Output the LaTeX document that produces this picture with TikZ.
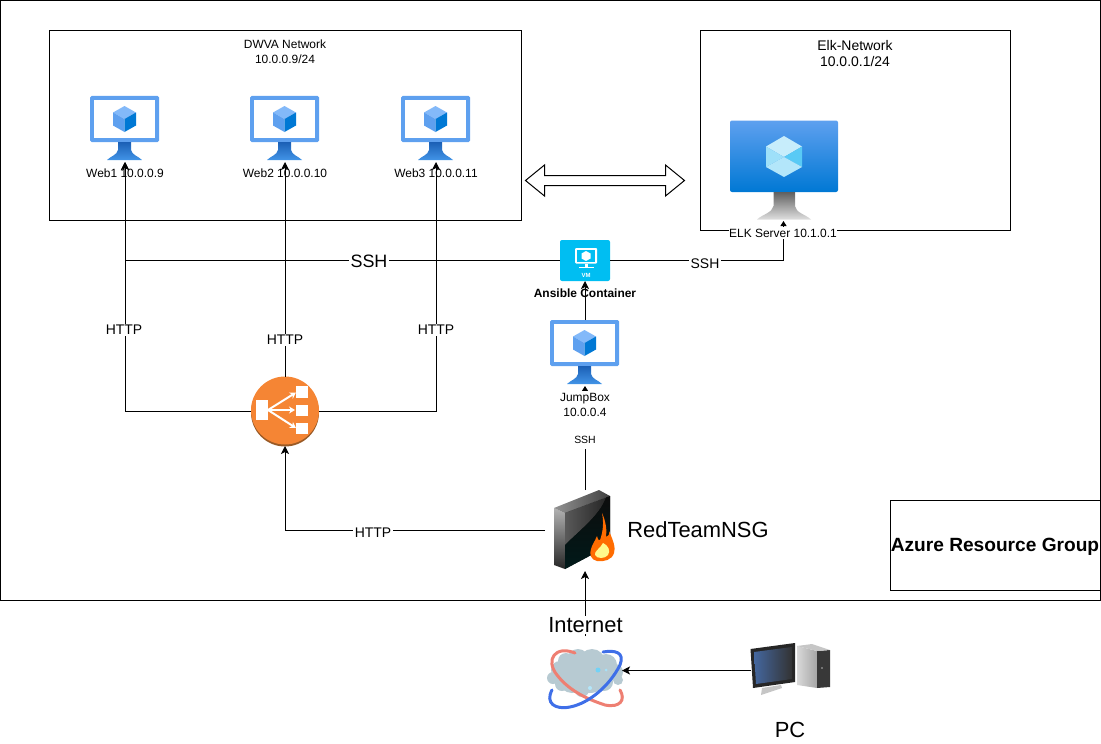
\documentclass[tikz,border=0pt]{standalone}
\usepackage{fontspec}
\setmainfont{Liberation Sans}
\usetikzlibrary{arrows.meta,positioning}
\definecolor{azA}{HTML}{5EA0EF}
\definecolor{azB}{HTML}{0078D4}
\definecolor{azC}{HTML}{83B9F9}
\definecolor{azD}{HTML}{1B5FB5}
\definecolor{lbO}{HTML}{F58534}
\definecolor{lbD}{HTML}{995A26}
\definecolor{ansC}{HTML}{00BEF2}
\definecolor{ringR}{HTML}{EE7F72}
\definecolor{ringB}{HTML}{3F6FE8}
\definecolor{cloudC}{HTML}{B7CAD2}
\definecolor{screenC}{HTML}{44679F}
\newcommand{\fsz}[1]{\fontsize{#1}{#1}\selectfont}
\tikzset{
  x=1bp,y=-1bp,
  iconbox/.style={inner sep=0pt,outer sep=0pt,minimum width=#1},
  boxline/.style={draw=black,line width=1bp},
  wire/.style={draw=black,line width=1bp},
  tipped/.style={wire,-{Stealth[length=8bp,width=8bp,inset=2bp]}},
  tiny tipped/.style={wire,-{Stealth[length=5bp,width=6bp,inset=0bp]}},
  lab/.style={inner sep=0pt,outer sep=0pt,align=center,text=black,font=\fsz{#1}},
  wlab/.style={lab=#1,fill=white,inner sep=1.5bp},
  vmicon/.pic={
    \fill[azA,rounded corners=1.5bp] (0,0) rectangle (69,46);
    \fill[white] (4,4) rectangle (65,42);
    \shade[top color=azD,bottom color=azA!70!azB,draw=none] (28,46) -- (41,46) -- (41,54) .. controls (42,59) and (48,60) .. (52,64) -- (17,64) .. controls (21,60) and (27,59) .. (28,54) -- cycle;
    \fill[azC] (34.5,10) -- (46,16.5) -- (34.5,23) -- (23,16.5) -- cycle;
    \fill[azA] (23,16.5) -- (34.5,23) -- (34.5,36) -- (23,29.5) -- cycle;
    \fill[azB] (46,16.5) -- (34.5,23) -- (34.5,36) -- (46,29.5) -- cycle;
  }
}
\begin{document}
\begin{tikzpicture}
\useasboundingbox (0,0) rectangle (1101,744);
% containers
\path[boxline] (0.5,0.5) rectangle (1100.5,600.5);
\path[boxline] (49.5,30.5) rectangle (521,220.5);
\path[boxline] (700.5,30.5) rectangle (1010.5,230.5);
\path[boxline] (890.5,500.5) rectangle (1100.5,590.5);
\node[inner sep=0pt,font=\fsz{19.2}\bfseries] (azure) at (995,547) {Azure Resource Group};
\node[lab=12] (dvwat) at (285,51.5) {DWVA Network\\[3bp]10.0.0.9/24};
\node[lab=14] (elkt) at (855,53.5) {Elk-Network\\[3bp]10.0.0.1/24};

% icon holders
\node[iconbox=70bp,minimum height=66bp] (web1) at (125,129) {};
\node[iconbox=70bp,minimum height=66bp] (web2) at (285,129) {};
\node[iconbox=70bp,minimum height=66bp] (web3) at (436,129) {};
\node[iconbox=109bp,minimum height=101bp] (elk) at (783.5,170.5) {};
\node[iconbox=50bp,minimum height=41bp] (ans) at (585,260.5) {};
\node[iconbox=70bp,minimum height=66bp] (jump) at (585,353) {};
\node[iconbox=68bp,minimum height=69bp] (lb) at (285,411.5) {};
\node[iconbox=80bp,minimum height=81bp] (nsg) at (585,530.5) {};
\node[iconbox=74bp,minimum height=69bp] (cloud) at (585,670.5) {};
\node[iconbox=80bp,minimum height=49bp] (pc) at (790.5,670.5) {};

% VMs
\pic at (90,96) {vmicon};
\pic at (250,96) {vmicon};
\pic at (401,96) {vmicon};
\pic at (550,320) {vmicon};

% Elk server
\shade[top color=azA,bottom color=azB,rounded corners=2bp] (730,120.5) rectangle (838,192);
\shade[top color=gray!75!black,bottom color=gray!25] (773.5,192) -- (795,192) -- (795,206) .. controls (796,213) and (805,214) .. (811,219.5) -- (757,219.5) .. controls (763,214) and (772,213) .. (773.5,206) -- cycle;
\fill[cyan!22!white] (784,136) -- (802,146.5) -- (784,157) -- (766,146.5) -- cycle;
\fill[cyan!38!white] (766,146.5) -- (784,157) -- (766,167) -- cycle;
\fill[cyan!65!white] (802,146.5) -- (784,157) -- (802,167) -- cycle;
\fill[cyan!30!white] (766,167) -- (784,157) -- (802,167) -- (784,177) -- cycle;

% Ansible
\fill[ansC,rounded corners=2bp] (ans.north west) rectangle (ans.south east);
\fill[white,rounded corners=1bp] (575,248) rectangle (597,263.5);
\fill[ansC] (577,250) rectangle (595,261.5);
\fill[white] (586,251) -- (590.5,253.5) -- (590.5,258.5) -- (586,261) -- (581.5,258.5) -- (581.5,253.5) -- cycle;
\fill[white] (584.5,263.5) rectangle (587.5,266.5);
\fill[white] (578.5,266.5) rectangle (593.5,268);
\node[lab=6,text=white,font=\fsz{6}\bfseries] (vmt) at (586,275.5) {VM};

% load balancer
\fill[lbD] (285,412.5) circle (34);
\fill[lbO] (285,410.5) circle (34);
\fill[white] (256,400) rectangle (268,420);
\fill[white] (296,386) rectangle (307.5,398);
\fill[white] (296,405) rectangle (307.5,415.5);
\fill[white] (296,423) rectangle (307.5,433.5);
\draw[white,line width=2bp,-{Stealth[length=6bp,width=7bp]}] (268,410) -- (296,392.5);
\draw[white,line width=2bp,-{Stealth[length=6bp,width=7bp]}] (268,410) -- (295,410);
\draw[white,line width=2bp,-{Stealth[length=6bp,width=7bp]}] (268,410) -- (296,428);

% firewall
\shade[top color=gray!60,bottom color=black!85] (554,508) -- (565,513) -- (565,569) -- (554,565) -- cycle;
\shade[left color=gray!85,right color=black!75] (554,508) -- (599,490) -- (610,496) -- (565,513) -- cycle;
\fill[black!92] (565,513) -- (610,496) -- (610,545) -- (565,569) -- cycle;
\shade[left color=gray!70!black,right color=black!85] (565,513) -- (606,497.5) .. controls (600,515) and (580,530) .. (565,545) -- cycle;
\shade[top color=black!95,bottom color=black!90!cyan] (565,545) .. controls (580,530) and (600,515) .. (606,497.5) -- (610,496) -- (610,545) -- (565,569) -- cycle;
\fill[orange!85!red] (602,513) .. controls (606,522) and (607,530) .. (606,537) .. controls (608,537) and (610,534) .. (609,531) .. controls (613,540) and (616,548) .. (614,553) .. controls (612,560) and (604,562) .. (597,561) .. controls (591,560) and (589,554) .. (591,549) .. controls (592,545) and (595,541) .. (597,536) .. controls (598,540) and (599,541) .. (600,540) .. controls (603,532) and (604,522) .. (602,513) -- cycle;
\fill[yellow!45!white] (603,543) .. controls (608,545) and (611,551) .. (608,555) .. controls (605,559) and (597,559) .. (595,555) .. controls (594,551) and (600,549) .. (603,543) -- cycle;

% internet
\foreach \cx/\cy/\cr in {553/678/6,560/670/9,566/661/8,578/660/11,592/662/13,606/665/11,615/672/8,618/680/5,590/676/17,572/680/13,604/682/9,562/684/7,582/690/7}
  \fill[cloudC] (\cx,\cy) circle (\cr);
\fill[cyan!55!white] (598,670) circle (2.5);
\fill[cyan!35!white] (606,670) circle (1.5);
\fill[white!70!cyan] (590,688) circle (2);
\draw[ringR,line width=3bp,line cap=round] (575,653) .. controls (555,645) and (545,660) .. (557,675) .. controls (570,692) and (590,700) .. (605,705) .. controls (620,708) and (626,700) .. (620,690);
\draw[ringB,line width=3bp,line cap=round] (552,690) .. controls (545,703) and (555,710) .. (570,707) .. controls (590,703) and (610,685) .. (620,665) .. controls (625,652) and (615,650) .. (603,652);

% pc
\fill[black!85] (750.5,649) -- (795,643) -- (795,682) -- (753,688) -- cycle;
\shade[left color=screenC,right color=black!80] (754,652) -- (792,647) -- (792,679) -- (756,684) -- cycle;
\fill[gray!45] (762,688) -- (781,685) -- (782,688) -- (761,695) -- cycle;
\shade[left color=gray!30,right color=gray!70] (797,646) -- (817,651) -- (817,688) -- (797,685) -- cycle;
\fill[black!78] (817,651) -- (830,650) -- (830,687) -- (817,688) -- cycle;
\fill[gray!45] (797,646) -- (812,644) -- (830,650) -- (817,651) -- cycle;
\fill[gray!60] (822,668) circle (0.8);

% labels that wires cross
\node[lab=12] (web1t) at (125,173) {Web1 10.0.0.9};
\node[lab=12] (web2t) at (285,173) {Web2 10.0.0.10};
\node[lab=12] (web3t) at (436,173) {Web3 10.0.0.11};
\node[lab=12,font=\fsz{12}\bfseries] (anst) at (585,293.5) {Ansible Container};

% block arrow
\path[boxline,fill=white,miter limit=10] (525.5,180.5) -- (544.5,165) -- (544.5,175.5) -- (665.5,175.5) -- (665.5,165) -- (684.5,180.5) -- (665.5,196) -- (665.5,185.5) -- (544.5,185.5) -- (544.5,196) -- cycle;

% connectors
\draw[tipped] (lb.north) -- (web2.south);
\draw[tipped] (lb.west) -| (web1.south);
\draw[tipped] (lb.east) -| (web3.south);
\draw[tipped] (ans.west) -| (web1.south);
\draw[tiny tipped] (ans.east) -| (elk.south);
\draw[tipped] (jump.north) -- (ans.south);
\draw[tiny tipped] (nsg.north) -- (jump.south);
\draw[tipped] (nsg.west) -| (lb.south);
\draw[tipped] (cloud.north) -- (nsg.south);
\draw[tipped] (pc.west) -- (cloud.east);

% labels over wires
\fill[white] (578,415) rectangle (592,449);
\node[wlab=14] (h1) at (124,330) {HTTP};
\node[wlab=14] (h2) at (285,340) {HTTP};
\node[wlab=14] (h3) at (436,330) {HTTP};
\node[wlab=14] (h4) at (373,532.5) {HTTP};
\node[wlab=18] (s1) at (369,261.5) {SSH};
\node[wlab=14] (s2) at (705,263.5) {SSH};
\node[wlab=12,inner ysep=2bp] (jumpt) at (585,405) {JumpBox\\[3bp]10.0.0.4};
\node[wlab=10.5,inner xsep=3bp] (s3) at (585,440) {SSH};
\node[wlab=12,inner xsep=0pt] (elkl) at (783,233) {ELK Server 10.1.0.1};
\node[lab=22] (nsgt) at (698,530) {RedTeamNSG};
\node[wlab=22,inner ysep=1bp,inner xsep=4bp] (nett) at (585.5,625) {Internet};
\node[lab=22] (pct) at (790,730) {PC};
\end{tikzpicture}
\end{document}
